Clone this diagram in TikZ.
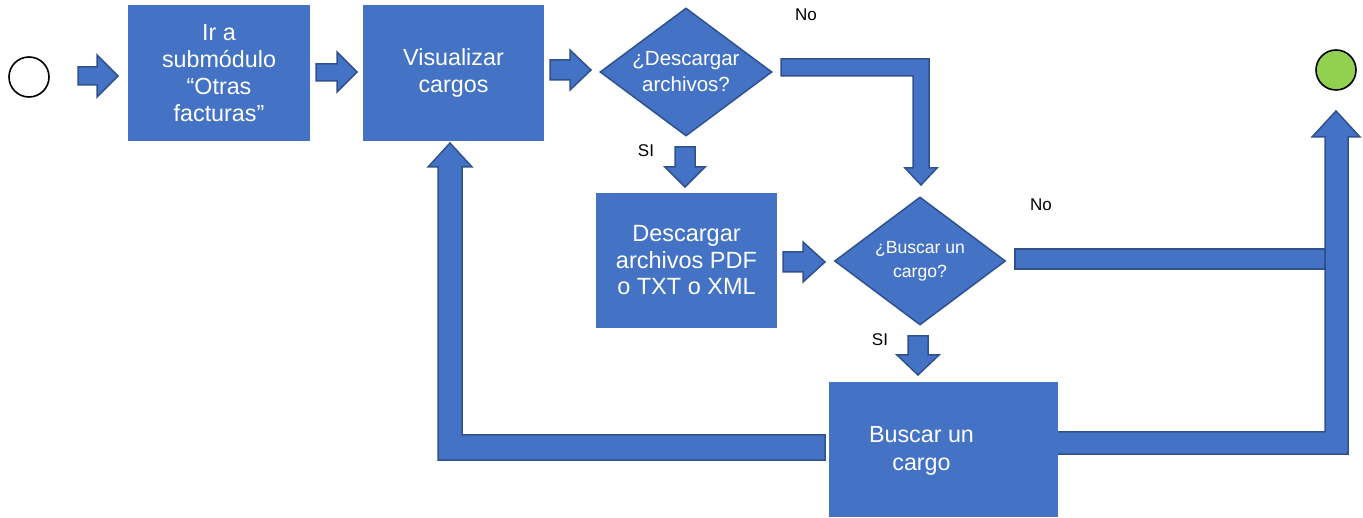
\documentclass[tikz,border=0pt]{standalone}
\usepackage{fontspec}
\setmainfont{Liberation Sans}
\usetikzlibrary{shapes.geometric}
\definecolor{boxblue}{HTML}{4472C4}
\definecolor{edgeblue}{HTML}{2F528F}
\definecolor{endgreen}{HTML}{92D050}
\begin{document}
\begin{tikzpicture}[x=1pt,y=-1pt,
  box/.style={fill=boxblue, inner sep=0pt, text=white, align=center, font=\fontsize{23.3}{27}\selectfont},
  dia/.style={diamond, fill=boxblue, draw=edgeblue, line width=1.5pt, inner sep=0pt},
  blk/.style={fill=boxblue, draw=edgeblue, line width=1.5pt, line join=miter},
  lbl/.style={font=\fontsize{17}{20}\selectfont, text=black},
  dtxt/.style={text=white, align=center},
  ev/.style={circle, draw=black, line width=1.6pt, minimum size=40pt, inner sep=0pt}
]
\useasboundingbox (0,0) rectangle (1363,518);

% end events
\node[ev] (start) at (29,77) {};
\node[ev, fill=endgreen] (end) at (1336,70) {};

% block connectors drawn beneath boxes
\coordinate (nobarL) at (1015,249);
\coordinate (nobarR) at (1325,269);
\draw[blk] (nobarL) rectangle (nobarR);
\draw[blk] (1050,432) -- (1325,432) -- (1325,137) -- (1312,137) -- (1336,111) -- (1360,137) -- (1348,137) -- (1348,454) -- (1050,454) -- cycle;

% nodes
\node[box, minimum width=182pt, minimum height=136pt] (b1) at (219,73) {Ir a\\submódulo\\“Otras\\facturas”};
\node[box, minimum width=181pt, minimum height=136pt] (b2) at (453.5,73) {Visualizar\\cargos};
\node[dia, minimum width=172pt, minimum height=128pt,
      label={[dtxt, font=\fontsize{20.5}{26}\selectfont]center:¿Descargar\\archivos?}] (d1) at (686,72) {};
\node[box, font=\fontsize{23.5}{26.5}\selectfont, minimum width=181pt, minimum height=135pt] (b3) at (686.5,260.5) {Descargar\\archivos PDF\\o TXT o XML};
\node[dia, minimum width=171pt, minimum height=128pt,
      label={[dtxt, font=\fontsize{17.6}{24}\selectfont]center:¿Buscar un\\cargo?}] (d2) at (920,261) {};
\node[box, minimum width=229pt, minimum height=135pt,
      label={[dtxt, font=\fontsize{23.3}{28}\selectfont, xshift=-22pt, yshift=-1.5pt]center:Buscar un\\cargo}] (b4) at (943.5,449.5) {};

% labels
\node[lbl] (no1) at (806,15) {No};
\node[lbl] (si1) at (646,151) {SI};
\node[lbl] (no2) at (1041,205) {No};
\node[lbl] (si2) at (880,340) {SI};

% straight block arrows
\draw[blk] (78,67) -- (97,67) -- (97,55) -- (118,76) -- (97,97) -- (97,85) -- (78,85) -- cycle;
\draw[blk] (316,64) -- (337,64) -- (337,52) -- (357,72) -- (337,92) -- (337,81) -- (316,81) -- cycle;
\draw[blk] (550,60) -- (570,60) -- (570,50) -- (591,70) -- (570,90) -- (570,80) -- (550,80) -- cycle;
\draw[blk] (783,252) -- (803,252) -- (803,242) -- (825,262) -- (803,282) -- (803,272) -- (783,272) -- cycle;
\draw[blk] (675,147) -- (695,147) -- (695,167) -- (705,167) -- (685,187) -- (665,167) -- (675,167) -- cycle;
\draw[blk] (908,336) -- (928,336) -- (928,355) -- (939,355) -- (918,375) -- (897,355) -- (908,355) -- cycle;

% bent block arrows
\draw[blk] (781,59) -- (929,59) -- (929,168) -- (937,168) -- (921,185) -- (905,168) -- (913,168) -- (913,76) -- (781,76) -- cycle;
\draw[blk] (825,435) -- (462,435) -- (462,167) -- (472,167) -- (450,143) -- (428,167) -- (438,167) -- (438,460) -- (825,460) -- cycle;
\end{tikzpicture}
\end{document}
